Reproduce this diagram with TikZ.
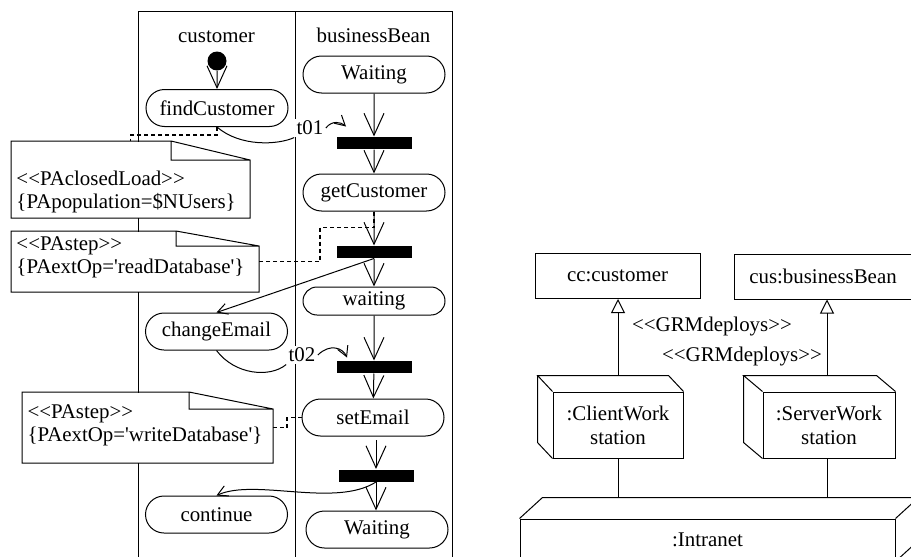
\documentclass[tikz,border=0pt]{standalone}
\usepackage{fontspec}
\setmainfont{Liberation Serif}[Ligatures=TeXOff]
\usetikzlibrary{shapes.misc,arrows.meta,calc}

% dog-eared outline of a UML note: node name, fold width, fold drop
\newcommand\noteframe[3]{%
  \draw (#1.north west) -- ($(#1.north east)+(-#2,0)$) -- ($(#1.north east)+(0,#3)$)
        -- (#1.south east) -- (#1.south west) -- cycle
        ($(#1.north east)+(-#2,0)$) |- ($(#1.north east)+(0,#3)$);}

\begin{document}
\begin{tikzpicture}[x=0.5pt,y=-0.5pt,
  font=\fontsize{10.45}{11.5}\selectfont,
  line width=0.5pt,
  activity/.style={rounded rectangle, draw, minimum width=71pt, minimum height=18.5pt, inner sep=0pt},
  syncbar/.style={rectangle, fill=black, minimum width=37.5pt, minimum height=6pt, inner sep=0pt},
  startnode/.style={circle, fill=black, minimum size=9.5pt, inner sep=0pt},
  flow/.style={-{Straight Barb[length=11pt,width=10pt]}},
  smallflow/.style={-{Straight Barb[length=5pt,width=5.5pt]}},
  trace/.style={dash pattern=on 2pt off 1.5pt, line width=0.7pt},
  umlnote/.style={rectangle, fill=white, inner xsep=2.5pt, inner ysep=0pt, anchor=north west, align=left},
  tlabel/.style={fill=white, inner sep=1pt},
  objbox/.style={rectangle, draw, minimum height=22.5pt, inner sep=0pt},
  hwnode/.style={rectangle, draw, fill=white, align=center, inner sep=0pt, minimum height=33pt,
                 font=\fontsize{10.45}{12}\selectfont},
  realize/.style={-{Triangle[open,length=7pt,width=7pt]}},
]
\useasboundingbox (0,0) rectangle (911,557);
\clip (0,0) rectangle (911,557);

% ---------------- swimlanes ----------------
\draw (138,575) -- (138,11) -- (452,11) -- (452,575);
\draw (295,11) -- (295,575);
\node[anchor=base] (custlane) at (216.5,42) {customer};
\node[anchor=base] (beanlane) at (373.5,42) {businessBean};

% ---------------- activity states ----------------
\node[startnode] (init) at (217,61) {};
\node[activity] (findC) at (217,108) {findCustomer};
\node[activity] (chg) at (216.5,331.5) {changeEmail};
\node[activity] (cont) at (216.5,514.5) {continue};

\node[activity] (w1) at (374,74.5) {Waiting};
\node[syncbar] (bar1) at (374,143) {};
\node[activity] (getC) at (374,192.5) {getCustomer};
\node[syncbar] (bar2) at (374,252) {};
\node[activity, minimum height=14pt] (w2) at (374,301) {waiting};
\node[syncbar] (bar3) at (374,367) {};
\node[activity] (setE) at (373,417.5) {setEmail};
\node[syncbar] (bar4) at (376,475.5) {};
\node[activity] (w3) at (377,529.5) {Waiting};

% ---------------- transitions ----------------
\draw[flow] (init) -- (findC);
\draw[flow] (w1) -- (bar1);
\draw[flow] (bar1) -- (getC);
\draw[flow] (getC) -- (bar2);
\draw[flow] (bar2) -- (w2);
\draw[smallflow] (bar2.south) -- (chg.north);
\draw[flow] (w2) -- (bar3);
\draw[flow] (bar3) -- (setE);
\draw[flow] ($(bar4.north)+(0,-29)$) -- (bar4.north);
\draw[flow] (bar4.south) -- (bar4.south |- w3.north);
\draw[smallflow] (bar4.south) .. controls (335,508) and (255,478) .. (cont.north);

% named transitions
\node[tlabel] (t01) at (310,128) {t01};
\draw (findC.south) .. controls (240,147) and (278,145) .. (t01.south west);
\draw[smallflow] (t01.east) .. controls (332,120) and (341,122) .. ($(bar1.north west)+(10,-10)$);

\node[tlabel] (t02) at (302,355) {t02};
\draw (chg.south) .. controls (235,375) and (270,378) .. (t02.south west);
\draw[smallflow] (t02.east) .. controls (330,343) and (343,348) .. ($(bar3.north west)+(11,-3)$);

% ---------------- performance annotations ----------------
\node[umlnote, text width=114pt, text height=22pt, text depth=16pt] (load) at (11,141)
  {<<PAclosedLoad>>\\\{PApopulation=\$NUsers\}};
\noteframe{load}{79}{19}

\node[umlnote, text width=118.5pt, text height=9.5pt, text depth=20.5pt] (read) at (11,231)
  {<<PAstep>>\\\{PAextOp='readDatabase'\}};
\noteframe{read}{83}{15}

\node[umlnote, text width=120pt, text height=13pt, text depth=22pt] (write) at (22,392)
  {<<PAstep>>\\\{PAextOp='writeDatabase'\}};
\noteframe{write}{84}{17}

\draw[trace] (findC.south) -- ++(0,8) -| (load.north);
\draw[trace] (getC.south) -- ++(0,16) -| ($(read.east)+(61,0)$) -- (read.east);
\draw[trace] (write.east) -- ++(14,0) |- (setE.west);

% ---------------- deployment ----------------
\node[objbox, minimum width=82.5pt] (cc) at (617.5,276) {cc:customer};
\node[objbox, minimum width=89pt] (cus) at (823,276.5) {cus:businessBean};

\node[hwnode, minimum width=65pt] (client) at (618,425) {:ClientWork\\station};
\draw (client.north west) -- ++(-15,-16) -- ($(client.north east)+(-15,-16)$) -- (client.north east);
\draw ($(client.north west)+(-15,-16)$) -- ($(client.south west)+(-15,-16)$) -- (client.south west);

\node[hwnode, minimum width=66pt] (server) at (829,425) {:ServerWork\\station};
\draw (server.north west) -- ++(-19,-16) -- ($(server.north east)+(-19,-16)$) -- (server.north east);
\draw ($(server.north west)+(-19,-16)$) -- ($(server.south west)+(-19,-16)$) -- (server.south west);

\node[rectangle, draw, minimum width=187.5pt, minimum height=21pt, inner sep=0pt] (net) at (707.5,540) {:Intranet};
\coordinate (netback) at ($(net.north west)+(23,-21)$);
\draw (net.north west) -- (netback) -- ++(420,0);
\draw (net.north east) -- ++(23,-21);
\draw (net.south east) -- ++(23,-21) -- ($(net.north east)+(23,-21)$);

\coordinate (clitop) at ($(client.north)+(0,-16)$);
\coordinate (srvtop) at ($(server.north)+(-2,-16)$);
\coordinate (srvbot) at ($(server.south)+(-2,0)$);
\draw[realize] (clitop) -- (clitop |- cc.south);
\draw[realize] (srvtop) -- (srvtop |- cus.south);
\draw (client.south) -- (client.south |- netback);
\draw (srvbot) -- (srvbot |- netback);

\node (dep1) at (712,327) {<<GRMdeploys>>};
\node (dep2) at (742,357) {<<GRMdeploys>>};
\end{tikzpicture}
\end{document}
